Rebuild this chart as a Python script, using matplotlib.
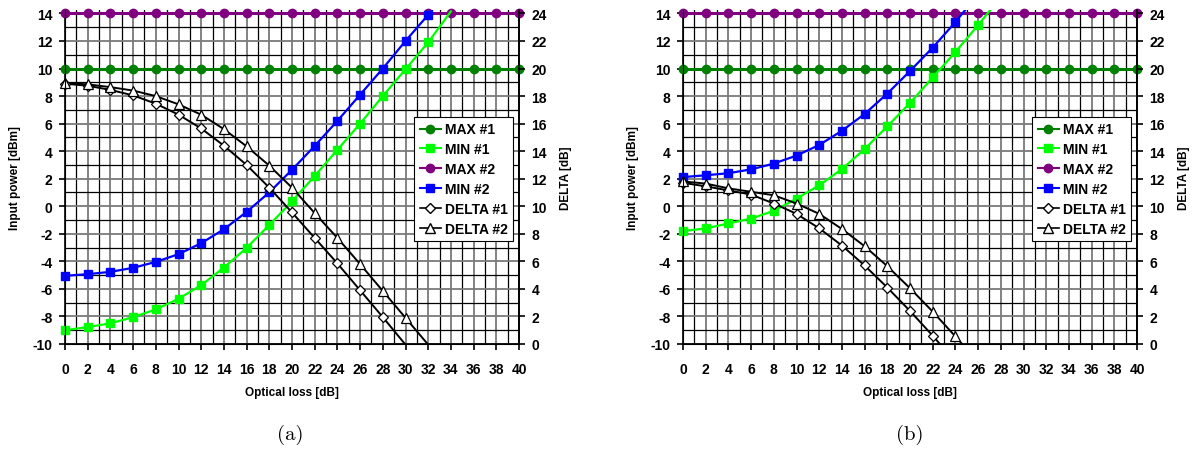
import matplotlib
matplotlib.use('Agg')
import matplotlib.pyplot as plt
from matplotlib.lines import Line2D
from matplotlib.ticker import MultipleLocator

plt.rcParams['font.family'] = ['Liberation Sans', 'DejaVu Sans']
plt.rcParams['font.weight'] = 'bold'
plt.rcParams['axes.unicode_minus'] = False

# optical loss [dB], every 2 dB
loss = list(range(0, 42, 2))

max1 = [10.0] * len(loss)
max2 = [14.0] * len(loss)

# panel (a)
a_min1 = [-9.0, -8.77, -8.5, -8.05, -7.49, -6.72, -5.73, -4.45, -3.02, -1.36,
          0.36, 2.2, 4.1, 6.0, 8.0, 9.95, 11.9, 14.15]
a_min2 = [-5.05, -4.93, -4.76, -4.47, -4.04, -3.48, -2.68, -1.67, -0.41, 1.01,
          2.65, 4.38, 6.2, 8.1, 10.0, 12.0, 13.9, 15.9]
a_delta1 = [18.9, 18.75, 18.45, 18.05, 17.45, 16.65, 15.65, 14.4, 13.0, 11.35,
            9.55, 7.7, 5.85, 3.9, 1.95, -0.05, -2.0]
a_delta2 = [18.95, 18.85, 18.65, 18.4, 18.0, 17.4, 16.65, 15.6, 14.35, 12.95,
            11.35, 9.5, 7.7, 5.8, 3.85, 1.9, -0.05, -2.0]

# panel (b)
b_min1 = [-1.8, -1.61, -1.25, -0.89, -0.33, 0.55, 1.52, 2.7, 4.15, 5.8,
          7.5, 9.35, 11.2, 13.15, 15.2]
b_min2 = [2.12, 2.25, 2.4, 2.68, 3.1, 3.68, 4.45, 5.48, 6.7, 8.18,
          9.82, 11.52, 13.37, 15.4]
b_delta1 = [11.7, 11.45, 11.15, 10.85, 10.2, 9.45, 8.4, 7.15, 5.7, 4.1,
            2.4, 0.6, -1.3]
b_delta2 = [11.8, 11.65, 11.3, 11.05, 10.8, 10.2, 9.45, 8.35, 7.1, 5.65,
            4.05, 2.35, 0.55, -1.3]

C_MAX1 = '#008000'
C_MIN1 = '#00ff00'
C_MAX2 = '#800080'
C_MIN2 = '#0000ff'

YL = (-10, 14.25)
YR = (0, 24.25)


def series(ax, ys, lims, lc, lw, z, **mk):
    # line clipped to the plot area, markers only for points inside it
    xs = loss[:len(ys)]
    ax.plot(xs, ys, color=lc, lw=lw, zorder=z)
    keep = [(x, y) for x, y in zip(xs, ys)
            if lims[0] - 0.01 <= y <= lims[1] - 0.2]
    ax.plot([k[0] for k in keep], [k[1] for k in keep], ls='none',
            clip_on=False, zorder=z + 0.5, **mk)


def panel(x0, min1, min2, d1, d2, cap, capx):
    W = 1198.0
    H = 452.0
    ax = fig.add_axes([x0 / W, (H - 345) / H, 454 / W, 334 / H])
    ax.set_xlim(0, 40)
    ax.xaxis.set_major_locator(MultipleLocator(2))
    ax.xaxis.set_minor_locator(MultipleLocator(1))
    ax.yaxis.set_major_locator(MultipleLocator(2))
    ax.yaxis.set_minor_locator(MultipleLocator(1))
    ax.grid(which='both', color='black', lw=0.9, zorder=0)
    ax.grid(which='major', color='#7a7a7a', lw=1.3)
    ax.set_axisbelow(True)
    ax.spines['top'].set_visible(False)
    for s in ['left', 'bottom', 'right']:
        ax.spines[s].set_linewidth(1.2)
    ax.tick_params(which='major', direction='out', length=4, width=1.2,
                   labelsize=10, pad=5)
    ax.tick_params(axis='x', pad=9)
    ax.tick_params(which='minor', length=0)
    ax.set_yticks(range(-10, 16, 2))
    ax.set_ylim(*YL)

    series(ax, max1, YL, C_MAX1, 2.2, 3, marker='o', ms=6, color=C_MAX1)
    series(ax, max2, YL, C_MAX2, 2.2, 3, marker='o', ms=6, color=C_MAX2)
    series(ax, min1, YL, C_MIN1, 1.6, 4, marker='s', ms=6, color=C_MIN1)
    series(ax, min2, YL, C_MIN2, 1.6, 4, marker='s', ms=6, color=C_MIN2)

    ax2 = ax.twinx()
    ax2.set_yticks(range(0, 26, 2))
    ax2.set_ylim(*YR)
    ax2.spines['top'].set_visible(False)
    ax2.spines['right'].set_linewidth(1.2)
    ax2.tick_params(direction='out', length=4, width=1.2, labelsize=10, pad=5)
    series(ax2, d1, YR, 'black', 1.4, 2, marker='D', ms=5, mfc='white',
           mec='black', mew=0.9)
    series(ax2, d2, YR, 'black', 1.4, 2, marker='^', ms=7, mfc='white',
           mec='black', mew=0.9)

    handles = [
        Line2D([], [], color=C_MAX1, lw=1.5, marker='o', ms=6),
        Line2D([], [], color=C_MIN1, lw=1.5, marker='s', ms=6),
        Line2D([], [], color=C_MAX2, lw=1.5, marker='o', ms=6),
        Line2D([], [], color=C_MIN2, lw=1.5, marker='s', ms=6),
        Line2D([], [], color='black', lw=1.2, marker='D', ms=5, mfc='white'),
        Line2D([], [], color='black', lw=1.2, marker='^', ms=7, mfc='white'),
    ]
    labels = ['MAX #1', 'MIN #1', 'MAX #2', 'MIN #2', 'DELTA #1', 'DELTA #2']
    leg = ax2.legend(handles, labels, loc='upper right',
                     bbox_to_anchor=(0.987, 0.68), borderaxespad=0,
                     fontsize=10, numpoints=1, handlelength=1.5,
                     handletextpad=0.3, labelspacing=0.42, borderpad=0.4,
                     fancybox=False, framealpha=1, edgecolor='black')
    leg.get_frame().set_linewidth(0.8)
    leg.set_zorder(10)

    fig.text((x0 - 50) / W, 1 - 178 / H, 'Input power [dBm]', rotation=90,
             ha='center', va='center', fontsize=8.5, fontweight='bold')
    fig.text((x0 + 501) / W, 1 - 178 / H, 'DELTA [dB]', rotation=90,
             ha='center', va='center', fontsize=8.5, fontweight='bold')
    fig.text((x0 + 227) / W, 1 - 393 / H, 'Optical loss [dB]',
             ha='center', va='center', fontsize=8.5, fontweight='bold')
    fig.text(capx / W, 1 - 435 / H, cap, ha='center', va='center',
             fontsize=15, fontfamily='cmr10', fontweight='normal')


fig = plt.figure(figsize=(11.98, 4.52), dpi=100)
panel(65, a_min1, a_min2, a_delta1, a_delta2, '(a)', 290)
panel(683, b_min1, b_min2, b_delta1, b_delta2, '(b)', 910)
fig.savefig('out.png', dpi=100)
